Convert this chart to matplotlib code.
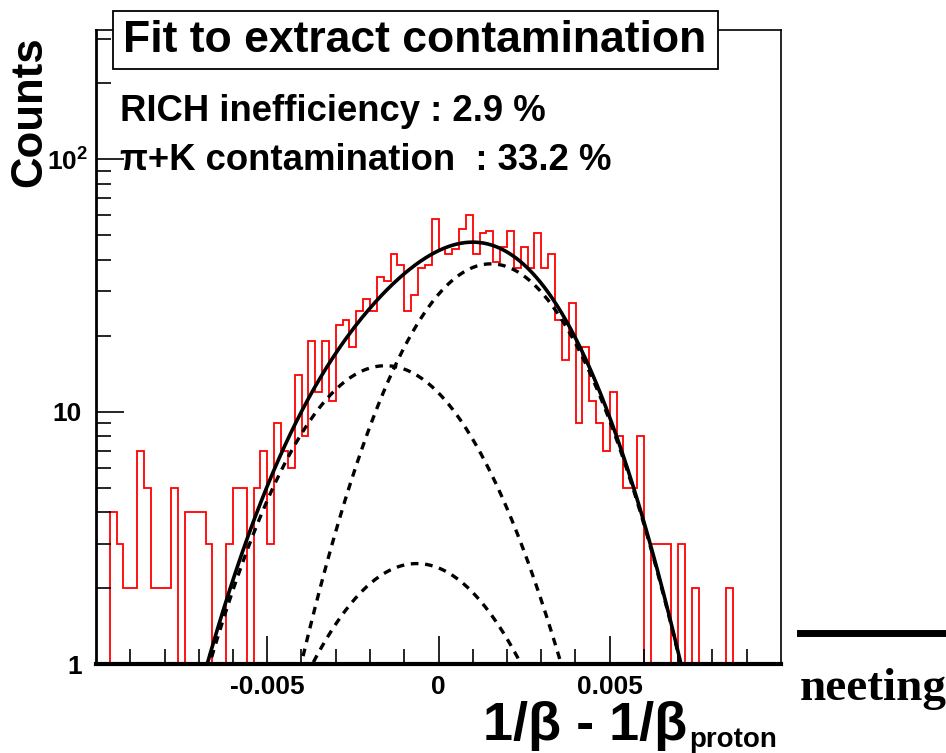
import numpy as np
import matplotlib
matplotlib.use("Agg")
import matplotlib.pyplot as plt
from matplotlib import font_manager as fm
from matplotlib.patches import Rectangle
from matplotlib.lines import Line2D

# histogram: 100 bins between x_lo and x_hi
x_lo, x_hi, n_bins = -0.01, 0.01, 100
counts = [0, 0, 4, 3, 2, 2, 7, 5, 2, 2,
          2, 5, 1, 4, 4, 4, 3, 1, 1, 3,
          5, 5, 1, 5, 7, 3, 9, 7, 6, 14,
          8, 19, 12, 19, 11, 22, 23, 18, 25, 28,
          25, 34, 33, 42, 38, 25, 29, 37, 38, 58,
          44, 42, 44, 53, 60, 42, 51, 52, 39, 45,
          52, 37, 45, 37, 51, 37, 42, 23, 16, 27,
          9, 18, 11, 9, 7, 12, 8, 5, 5, 8,
          1, 3, 3, 3, 1, 3, 0, 2, 0, 0,
          0, 0, 2, 0, 0, 0, 0, 0, 0, 0]

# fit components (gaussians): proton, pi, K
comp_amp = [38.5, 15.2, 2.5]
comp_mean = [0.00153, -0.00155, -0.000635]
comp_sigma = [0.00205, 0.0022, 0.00225]

x_ticks = [-0.005, 0, 0.005]
x_tick_labels = ["-0.005", "0", "0.005"]
y_ticks = [1, 10, 100]
y_tick_labels = ["1", "10", r"$\mathbf{10^{2}}$"]

title = "Fit to extract contamination"
line1 = "RICH inefficiency : 2.9 %"
line2 = "\u03c0+K contamination  : 33.2 %"


def pick(names):
    for n in names:
        try:
            fm.findfont(fm.FontProperties(family=n), fallback_to_default=False)
            return n
        except ValueError:
            pass
    return "DejaVu Sans"


SANS = pick(["Liberation Sans Narrow", "Liberation Sans", "DejaVu Sans"])
NARROW = SANS == "Liberation Sans Narrow"
k = 1.2 if NARROW else 1.0

plt.rcParams["font.family"] = [SANS, "DejaVu Sans"]
plt.rcParams["font.weight"] = "bold"
plt.rcParams["mathtext.fontset"] = "custom"
plt.rcParams["mathtext.rm"] = SANS
plt.rcParams["mathtext.bf"] = SANS + ":bold"

W, H = 946, 753


def px(x, y):
    return x / W, 1 - y / H


fig = plt.figure(figsize=(W / 100, H / 100), dpi=100)
ax = fig.add_axes([96 / W, 1 - 664 / H, (781 - 96) / W, (664 - 30) / H])

edges = np.linspace(x_lo, x_hi, n_bins + 1)
ax.stairs(np.clip(counts, 1, None), edges, color="red", lw=1.3, baseline=1)

xs = np.linspace(x_lo, x_hi, 1500)
comps = [a * np.exp(-(xs - m) ** 2 / (2 * s ** 2))
         for a, m, s in zip(comp_amp, comp_mean, comp_sigma)]
for c in comps:
    ax.plot(xs, c, color="black", lw=2.4, ls=(0, (2.3, 2.0)))
ax.plot(xs, np.sum(comps, axis=0), color="black", lw=2.6)

ax.set_yscale("log")
ax.set_xlim(x_lo, x_hi)
ax.set_ylim(1, 325)

ax.set_xticks(x_ticks)
ax.set_xticklabels(x_tick_labels)
ax.set_xticks(np.arange(-0.009, 0.0091, 0.001), minor=True)
ax.set_yticks(y_ticks)
ax.set_yticklabels(y_tick_labels)
minor_y = [v * d for d in (1, 10, 100) for v in range(2, 10) if v * d < 325]
ax.set_yticks(minor_y, minor=True)
ax.yaxis.set_minor_formatter(matplotlib.ticker.NullFormatter())

ax.tick_params(which="both", direction="in", top=False, right=False, width=1.2)
ax.tick_params(which="major", length=20)
ax.tick_params(which="minor", length=11)
ax.tick_params(axis="x", labelsize=19 * k, pad=8)
ax.tick_params(axis="y", labelsize=19 * k, pad=10)
# the 10^2 label sits a little closer to the axis, like in ROOT
ax.yaxis.get_major_ticks()[2].set_pad(5.5)

for side, w in (("left", 2.0), ("bottom", 3.0), ("top", 1.2), ("right", 1.2)):
    ax.spines[side].set_linewidth(w)

# title box
bx0, by0 = px(113, 69)
bx1, by1 = px(718, 11)
fig.patches.append(Rectangle((bx0, by0), bx1 - bx0, by1 - by0, transform=fig.transFigure,
                             fc="white", ec="black", lw=1.3, zorder=5))
fig.text(*px(415, 40), title, ha="center", va="center", fontsize=32 * k, zorder=6)

fig.text(*px(120, 121), line1, ha="left", va="baseline", fontsize=26.3 * k)
fig.text(*px(120, 170), line2, ha="left", va="baseline", fontsize=26.3 * k)

fig.text(*px(30, 112), "Counts", rotation=90, ha="center", va="center", fontsize=31.5 * k)

# x axis title with subscript
t = fig.text(*px(483, 740), "1/\u03b2 - 1/\u03b2", ha="left", va="baseline", fontsize=39 * k)
fig.canvas.draw()
bb = t.get_window_extent()
fig.text(bb.x1 / W + 2 / W, 1 - 747 / H, "proton", ha="left", va="baseline", fontsize=20 * k)

# slide remnants at right
fig.add_artist(Line2D([800 / W, 1.0], [1 - 633 / H] * 2, color="black", lw=5))
fig.text(*px(800, 700), "neeting", ha="left", va="baseline", fontsize=34,
         family="Liberation Serif", weight="bold")

fig.savefig("out.png", dpi=100)
